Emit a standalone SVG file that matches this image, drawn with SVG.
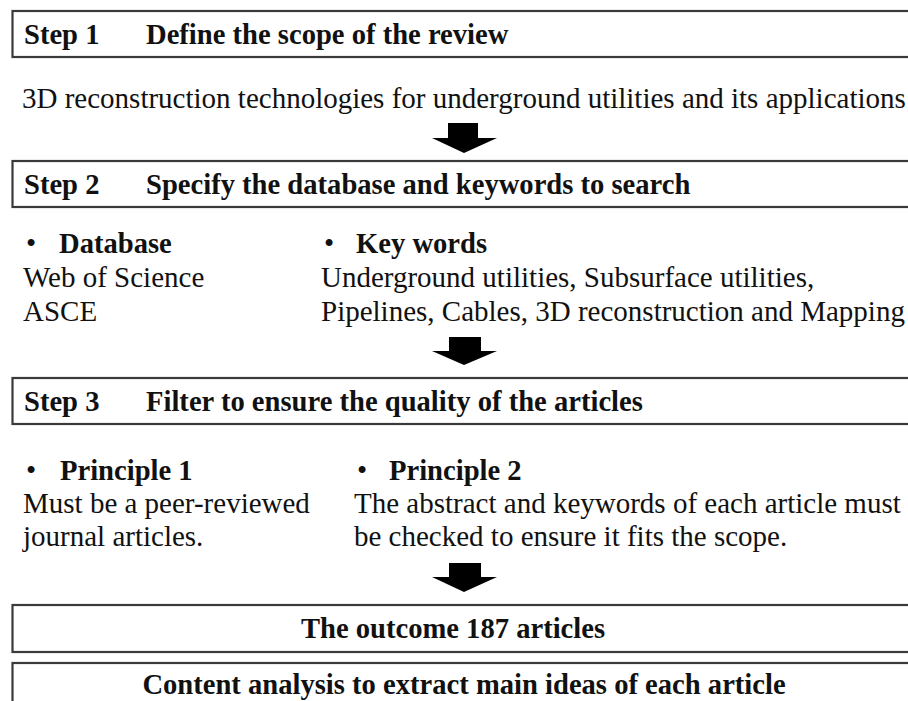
<svg xmlns="http://www.w3.org/2000/svg" width="908" height="701" viewBox="0 0 908 701">
<style>
.box{fill:#fff;stroke:#3a3a3a;stroke-width:2.2}
.t{font-family:"Liberation Serif","Times New Roman",serif;font-size:29px;fill:#111}
.b{font-weight:bold;font-size:28.6px}
.arr{fill:#000}
</style>
<rect width="908" height="701" fill="#fff"/>
<g id="step1">
<rect class="box" x="12.5" y="11" width="910" height="46"/>
<text class="t b" x="24" y="44">Step 1</text>
<text class="t b" x="146" y="44">Define the scope of the review</text>
<text class="t" x="22" y="108">3D reconstruction technologies for underground utilities and its applications</text>
</g>
<g id="step2">
<rect class="box" x="12.5" y="161" width="910" height="46"/>
<text class="t b" x="24" y="194">Step 2</text>
<text class="t b" x="146" y="194">Specify the database and keywords to search</text>
<text class="t" x="26" y="253">•</text>
<text class="t b" x="59" y="253">Database</text>
<text class="t" x="23" y="287">Web of Science</text>
<text class="t" x="23" y="321">ASCE</text>
<text class="t" x="324" y="253">•</text>
<text class="t b" x="356" y="253">Key words</text>
<text class="t" x="321" y="287">Underground utilities, Subsurface utilities,</text>
<text class="t" x="321" y="321">Pipelines, Cables, 3D reconstruction and Mapping</text>
</g>
<g id="step3">
<rect class="box" x="12.5" y="378" width="910" height="46"/>
<text class="t b" x="24" y="411">Step 3</text>
<text class="t b" x="146" y="411">Filter to ensure the quality of the articles</text>
<text class="t" x="26" y="480">•</text>
<text class="t b" x="60" y="480">Principle 1</text>
<text class="t" x="23" y="513">Must be a peer-reviewed</text>
<text class="t" x="23" y="546">journal articles.</text>
<text class="t" x="357" y="480">•</text>
<text class="t b" x="389" y="480">Principle 2</text>
<text class="t" x="354" y="513">The abstract and keywords of each article must</text>
<text class="t" x="354" y="546">be checked to ensure it fits the scope.</text>
</g>
<g id="outcome">
<rect class="box" x="12.5" y="605" width="910" height="47"/>
<text class="t b" x="453" y="638" text-anchor="middle">The outcome 187 articles</text>
</g>
<g id="content">
<rect class="box" x="12.5" y="663" width="910" height="60"/>
<text class="t b" x="464" y="694" text-anchor="middle">Content analysis to extract main ideas of each article</text>
</g>
<g id="connectors">
<polygon class="arr" points="448,123 478,123 478,138 497,138 464,153 432,138 448,138"/>
<polygon class="arr" points="449,337 481,337 481,351 497,351 464,365 432,351 449,351"/>
<polygon class="arr" points="449,563 481,563 481,577 497,577 464,592 432,577 449,577"/>
</g>
</svg>
